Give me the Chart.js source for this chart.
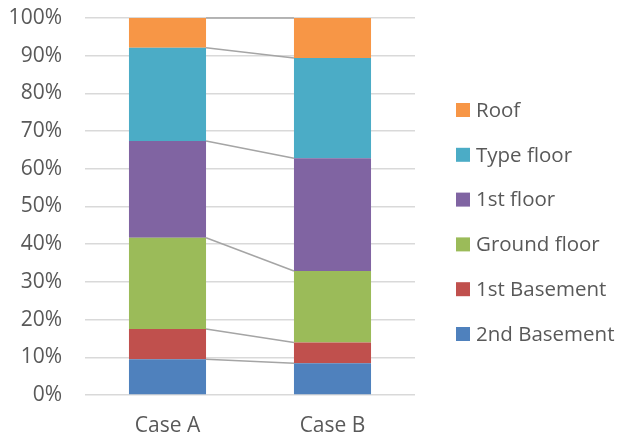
<!DOCTYPE html>
<html>
<head>
<meta charset="utf-8">
<script src="https://cdn.jsdelivr.net/npm/chart.js@4/dist/chart.umd.min.js"></script>
<style>
  html, body { margin: 0; padding: 0; background: #ffffff; }
  #wrap { width: 617px; height: 439px; position: relative; }
</style>
</head>
<body>
<div id="wrap"><canvas id="chart"></canvas></div>
<script>
// Share of each storey, per case (percent of the total)
const categories = ['Case A', 'Case B'];
const seriesNames = ['2nd Basement', '1st Basement', 'Ground floor', '1st floor', 'Type floor', 'Roof'];
const secondBasement = [9.5, 8.4];
const firstBasement = [8.0, 5.5];
const groundFloor = [24.2, 19.0];
const firstFloor = [25.7, 29.9];
const typeFloor = [24.7, 26.6];
const roof = [7.9, 10.6];
const yTicks = [0, 10, 20, 30, 40, 50, 60, 70, 80, 90, 100];

const seriesValues = [secondBasement, firstBasement, groundFloor, firstFloor, typeFloor, roof];
const seriesColors = ['#4F81BD', '#C0504D', '#9BBB59', '#8064A2', '#4BACC6', '#F79646'];

const FONT = "'Open Sans', sans-serif";
const TEXT = '#595959';

// Grey connector lines joining the top of each segment across the two columns
const seriesLines = {
  id: 'seriesLines',
  afterDatasetsDraw(chart) {
    const ctx = chart.ctx;
    ctx.save();
    ctx.strokeStyle = '#A5A5A5';
    ctx.lineWidth = 1.5;
    chart.data.datasets.forEach((ds, i) => {
      const bars = chart.getDatasetMeta(i).data;
      for (let k = 0; k < bars.length - 1; k++) {
        const a = bars[k], b = bars[k + 1];
        ctx.beginPath();
        ctx.moveTo(a.x + a.width / 2, a.y);
        ctx.lineTo(b.x - b.width / 2, b.y);
        ctx.stroke();
      }
    });
    ctx.restore();
  }
};

// Legend on the right, top series first
const sideLegend = {
  id: 'sideLegend',
  afterDraw(chart) {
    const ctx = chart.ctx;
    const x = 456, y0 = 110, step = 44.8;
    ctx.save();
    ctx.font = '20.5px ' + FONT;
    ctx.textBaseline = 'middle';
    ctx.textAlign = 'left';
    const n = chart.data.datasets.length;
    for (let r = 0; r < n; r++) {
      const ds = chart.data.datasets[n - 1 - r];
      const cy = y0 + r * step;
      ctx.fillStyle = ds.backgroundColor;
      ctx.fillRect(x, cy - 7, 14, 14);
      ctx.fillStyle = TEXT;
      ctx.fillText(ds.label, x + 20, cy + 1);
    }
    ctx.restore();
  }
};

new Chart(document.getElementById('chart'), {
  type: 'bar',
  data: {
    labels: categories,
    datasets: seriesNames.map((name, i) => ({
      label: name,
      data: seriesValues[i],
      backgroundColor: seriesColors[i],
      borderWidth: 0,
      categoryPercentage: 1,
      barPercentage: 0.467
    }))
  },
  options: {
    responsive: true,
    maintainAspectRatio: false,
    animation: false,
    layout: { padding: { left: 0, right: 202, top: 18, bottom: 0 } },
    plugins: {
      legend: { display: false },
      tooltip: { enabled: false }
    },
    scales: {
      x: {
        stacked: true,
        grid: { display: false, drawTicks: false },
        border: { display: false },
        ticks: { color: TEXT, font: { family: FONT, size: 21 }, padding: 18 },
        afterFit(s) { s.height = 44; s.paddingLeft = 0; s.paddingRight = 0; }
      },
      y: {
        stacked: true,
        min: 0,
        max: 100,
        afterBuildTicks(s) { s.ticks = yTicks.map(v => ({ value: v })); },
        grid: { color: '#D9D9D9', lineWidth: 1.5, drawTicks: false },
        border: { display: false },
        ticks: {
          color: TEXT,
          font: { family: FONT, size: 21 },
          padding: 23,
          callback: v => v + '%'
        },
        afterFit(s) { s.width = 85; s.paddingTop = 0; s.paddingBottom = 0; }
      }
    }
  },
  plugins: [seriesLines, sideLegend]
});
</script>
</body>
</html>
